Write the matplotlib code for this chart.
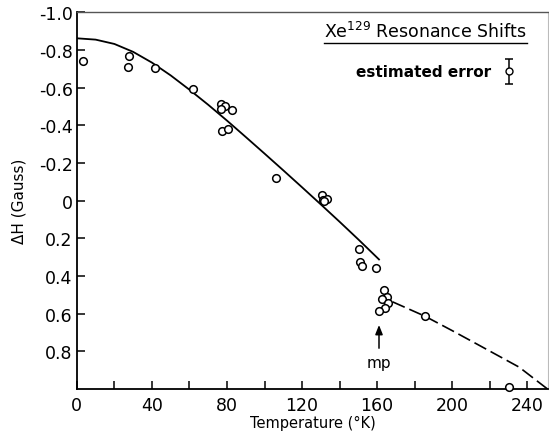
import numpy as np
import matplotlib
matplotlib.use("Agg")
import matplotlib.pyplot as plt

# measured points (temperature in K, shift in gauss)
temp = [3.4, 27.6, 27.4, 41.4, 61.7, 76.6, 78.9, 76.6, 82.8, 77.5, 80.7,
        106.0, 130.8, 131.2, 133.5, 131.7, 150.4, 150.9, 152.2, 159.6,
        163.7, 165.0, 162.8, 166.0, 164.3, 161.0, 185.4, 230.4]
shift = [-0.743, -0.77, -0.711, -0.702, -0.592, -0.512, -0.503, -0.489,
         -0.482, -0.37, -0.382, -0.121, -0.032, -0.005, -0.009, 0.004,
         0.256, 0.324, 0.347, 0.356, 0.475, 0.51, 0.524, 0.542, 0.569,
         0.585, 0.613, 0.987]

# solid curve (solid phase)
solid_t = [0, 10, 20, 30, 40, 50, 60, 70, 80, 90, 100, 110, 120, 130,
           140, 150, 161]
solid_h = [-0.862, -0.855, -0.832, -0.790, -0.733, -0.665, -0.589, -0.509,
           -0.425, -0.338, -0.250, -0.161, -0.071, 0.020, 0.112, 0.206,
           0.312]

# dashed curve (liquid phase)
liq_t = [168.2, 185.4, 200, 214.4, 235.7, 250.8]
liq_h = [0.537, 0.613, 0.69, 0.768, 0.884, 1.0]

xticks = [0, 40, 80, 120, 160, 200, 240]
yticks = [-1.0, -0.8, -0.6, -0.4, -0.2, 0, 0.2, 0.4, 0.6, 0.8]
ylabels = ["-1.0", "-0.8", "-0.6", "-0.4", "-0.2", "0",
           "0.2", "0.4", "0.6", "0.8"]

fig = plt.figure(figsize=(5.49, 4.35), dpi=100)
ax = fig.add_axes([0.140, 0.1034, 0.858, 0.866])

ax.plot(solid_t, solid_h, color="black", lw=1.3)
ax.plot(liq_t, liq_h, color="black", lw=1.2, linestyle=(0, (8, 3)))
ax.plot(temp, shift, "o", mfc="white", mec="black", mew=1.1, ms=5.5,
        linestyle="none", clip_on=False, zorder=3)

ax.set_xlim(0, 251)
ax.set_ylim(1.0, -1.0)

ax.set_xticks(xticks)
ax.set_xticks(np.arange(20, 250, 40), minor=True)
ax.set_yticks(yticks)
ax.set_yticklabels(ylabels)
ax.tick_params(axis="both", which="both", direction="in", length=6,
               width=1.1, labelsize=12.5)
ax.tick_params(axis="y", pad=3)
ax.tick_params(axis="x", pad=5)

for side in ["left", "bottom"]:
    ax.spines[side].set_linewidth(1.3)
ax.spines["top"].set_linewidth(1.0)
ax.spines["top"].set_color("#555555")
ax.spines["right"].set_linewidth(0.8)
ax.spines["right"].set_color("#bbbbbb")

ax.set_ylabel("ΔH (Gauss)", fontsize=11, labelpad=9)
ax.set_xlabel("Temperature (°K)", fontsize=10.5, labelpad=1)

# title with underline
ax.text(0.74, 0.925, r"Xe$^{129}$ Resonance Shifts", transform=ax.transAxes,
        ha="center", va="bottom", fontsize=12.5)
ax.plot([0.525, 0.955], [0.918, 0.918], transform=ax.transAxes,
        color="black", lw=1.0, clip_on=False)

# estimated error symbol
ax.text(221, -0.686, "estimated error", ha="right", va="center",
        fontsize=11, fontweight="bold")
ax.errorbar([230.4], [-0.686], yerr=[0.064], fmt="o", mfc="white",
            mec="black", ms=5, color="black", capsize=3, elinewidth=1.1,
            capthick=1.1)

# melting point arrow
ax.annotate("mp", xy=(161, 0.66), xytext=(161, 0.86), ha="center",
            va="center", fontsize=11,
            arrowprops=dict(arrowstyle="-|>,head_length=0.5,head_width=0.2",
                            color="black", lw=1.1, shrinkA=3, shrinkB=0))

fig.savefig("out.png", dpi=100)
